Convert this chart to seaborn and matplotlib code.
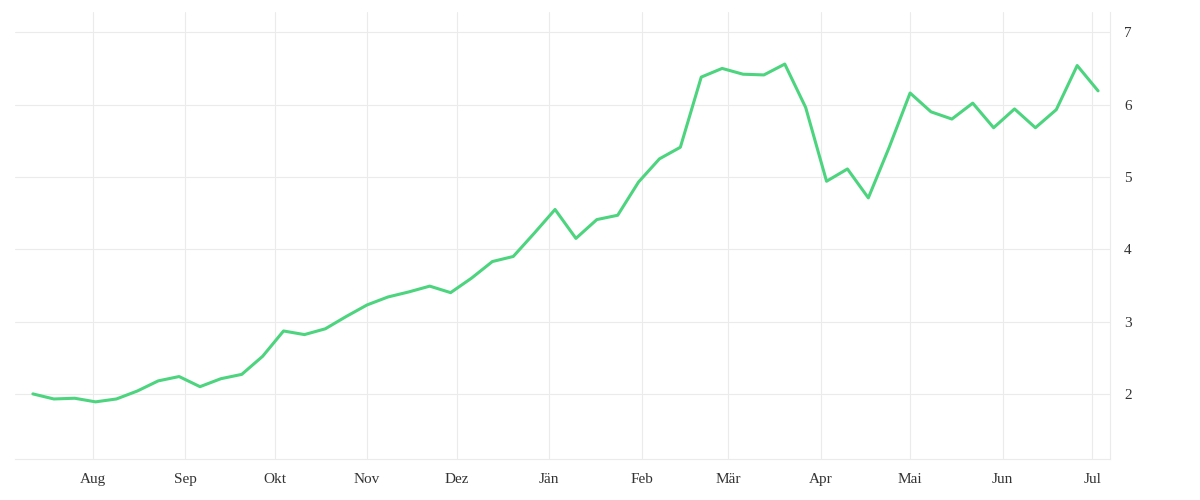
import matplotlib
matplotlib.use("Agg")
import matplotlib.pyplot as plt
import matplotlib.dates as mdates
import seaborn as sns
import pandas as pd
import numpy as np

values = [2.0,1.93,1.94,1.89,1.93,2.04,2.18,2.24,2.10,2.21,2.27,2.52,2.87,2.82,2.90,3.07,
          3.23,3.34,3.41,3.49,3.40,3.60,3.83,3.90,4.22,4.55,4.15,4.41,4.47,4.93,5.25,5.41,
          6.38,6.50,6.42,6.41,6.56,5.96,4.94,5.11,4.71,5.41,6.16,5.90,5.80,6.02,5.68,5.94,
          5.68,5.93,6.54,6.19]
dates = pd.date_range("2023-07-12", periods=len(values), freq="7D")
month_labels = ["Aug","Sep","Okt","Nov","Dez","Jän","Feb","Mär","Apr","Mai","Jun","Jul"]
month_ticks = pd.date_range("2023-08-01", periods=12, freq="MS")
y_ticks = [2,3,4,5,6,7]

sns.set_style("white")
plt.rcParams['font.family'] = ['Liberation Serif', 'DejaVu Serif']
fig = plt.figure(figsize=(12,5), dpi=100)
ax = fig.add_axes([15/1200, 1-459/500, 1095/1200, 447/500])
df = pd.DataFrame({"date": dates, "v": values})
sns.lineplot(data=df, x="date", y="v", ax=ax, color="#4cd47e", linewidth=2.2)
ax.set_xlim(pd.Timestamp("2023-07-06"), pd.Timestamp("2024-07-07"))
ax.set_ylim(1.1, 7.28)
ax.set_xticks(month_ticks)
ax.set_xticklabels(month_labels)
ax.set_yticks(y_ticks)
ax.yaxis.tick_right()
ax.set_xlabel(""); ax.set_ylabel("")
ax.grid(True, color="#ebebeb", linewidth=0.8)
for s in ["top","left"]:
    ax.spines[s].set_visible(False)
ax.spines["bottom"].set_color("#ebebeb")
ax.spines["right"].set_color("#ebebeb")
ax.tick_params(axis="both", length=0, labelsize=11, labelcolor="#333333", pad=10)
fig.savefig("out.png")
